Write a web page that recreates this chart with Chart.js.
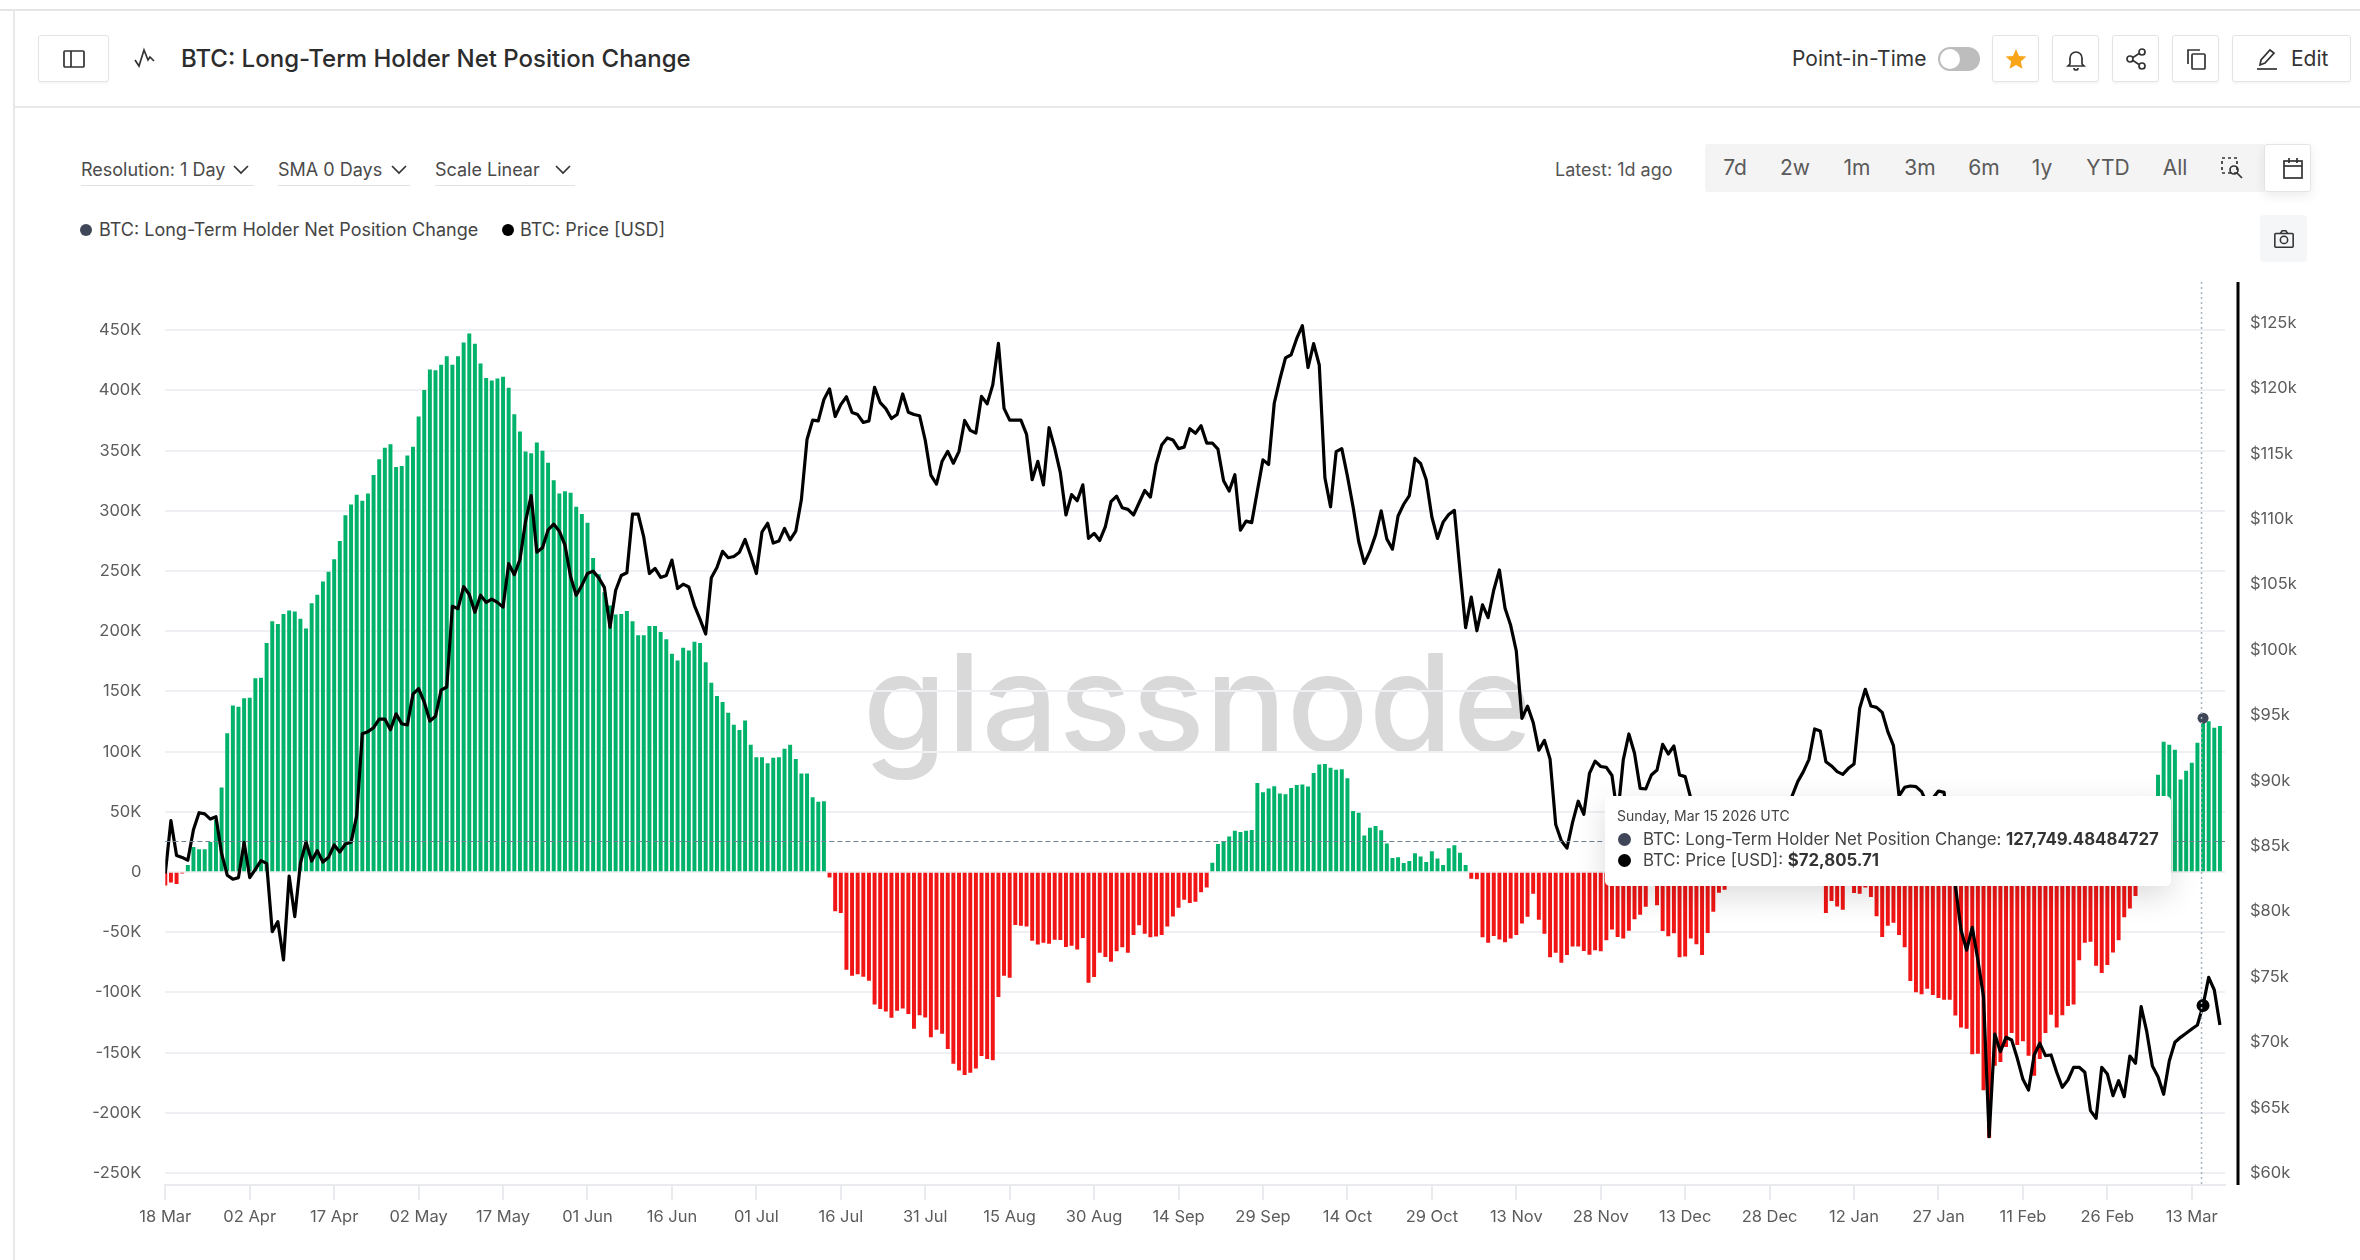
<!DOCTYPE html>
<html>
<head>
<meta charset="utf-8">
<title>BTC: Long-Term Holder Net Position Change</title>
<script src="https://cdn.jsdelivr.net/npm/chart.js@4"></script>
<style>
  html, body { margin: 0; padding: 0; background: #fff; }
  body { width: 2360px; height: 1260px; position: relative; overflow: hidden; font-family: Inter, sans-serif; color: #333; }
  .a { position: absolute; white-space: nowrap; }
  .c { display: flex; align-items: center; justify-content: center; }
  .btn { position: absolute; top: 35px; height: 47px; box-sizing: border-box; border: 1px solid #e4e4e4; border-radius: 3px; background: #fff; box-shadow: 0 2px 2px rgba(0,0,0,.04); display: flex; align-items: center; justify-content: center; }
  .drop { position: absolute; top: 157px; height: 28px; font-size: 18px; color: #4a4a4a; border-bottom: 1px solid #e2e2e2; line-height: 26px; }
  .range { position: absolute; top: 145px; height: 48px; line-height: 46px; font-size: 21px; color: #5a5a5a; transform: translateX(-50%); }
  svg { display: block; fill: none; stroke: #333; stroke-width: 1.7; }
  canvas { position: absolute; left: 0; top: 0; z-index: 2; }
  #watermark { left: 863px; top: 635px; font-size: 135px; line-height: 1; color: #d9d9d9; z-index: 1; font-weight: 500; letter-spacing: 0.5px; }
  #tip { left: 1605px; top: 796px; width: 566px; height: 90px; background: #fff; border-radius: 5px; box-shadow: 0 10px 30px rgba(0,0,0,.14); z-index: 3; color: #444; }
  #tip .dot { position: absolute; left: 13px; width: 13px; height: 13px; border-radius: 50%; }
  #tip .row { position: absolute; left: 38px; font-size: 16.8px; line-height: 20px; white-space: nowrap; }
  #tip b { color: #333; font-weight: 700; }
</style>
</head>
<body>
<div class="a" style="left:0;top:9px;width:2360px;height:2px;background:#e5e5e5"></div>
<div class="a" style="left:13px;top:10px;width:2px;height:1250px;background:#e8e8e8"></div>
<div class="a" style="left:15px;top:106px;width:2345px;height:2px;background:#e8e8e8"></div>

<div class="btn" style="left:38px;width:71px">
  <svg width="24" height="24" viewBox="0 0 24 24"><rect x="2" y="4" width="20" height="16" rx="1"/><line x1="9" y1="4" x2="9" y2="20"/></svg>
</div>
<svg class="a" style="left:133px;top:46px" width="24" height="26" viewBox="0 0 24 26"><path d="M2 14l4 6 5-16 4 10 2-3 4 4"/></svg>
<div class="a" style="left:181px;top:43px;font-size:24px;line-height:32px;font-weight:500;color:#2c2c2c">BTC: Long-Term Holder Net Position Change</div>

<div class="a" style="left:1792px;top:45px;font-size:21px;line-height:28px;color:#333">Point-in-Time</div>
<div class="a" style="left:1938px;top:47px;width:42px;height:24px;border-radius:12px;background:#bdbdbd"></div>
<div class="a" style="left:1940px;top:49px;width:20px;height:20px;border-radius:50%;background:#fff"></div>
<div class="btn" style="left:1992px;width:47px">
  <svg width="24" height="24" viewBox="0 0 24 24" style="stroke:none;fill:#f9a51a"><path d="M12 2l3 7 7.400.6-5.600 4.900 1.700 7.300L12 18l-6.500 3.800 1.700-7.300L1.600 9.600 9 9z"/></svg>
</div>
<div class="btn" style="left:2052px;width:47px">
  <svg width="24" height="24" viewBox="0 0 24 24"><path d="M6 17V11a6 6 0 0 1 12 0v6l2 2H4z"/><path d="M10 21a2 2 0 0 0 4 0"/></svg>
</div>
<div class="btn" style="left:2112px;width:47px">
  <svg width="24" height="24" viewBox="0 0 24 24"><circle cx="18" cy="5" r="3"/><circle cx="6" cy="12" r="3"/><circle cx="18" cy="19" r="3"/><path d="M9 10.500l6-4M9 13.500l6 4"/></svg>
</div>
<div class="btn" style="left:2172px;width:47px">
  <svg width="24" height="24" viewBox="0 0 24 24"><rect x="8" y="7" width="13" height="15" rx="1"/><path d="M4 17V3h12"/></svg>
</div>
<div class="btn" style="left:2232px;width:119px;justify-content:flex-start">
  <svg style="margin-left:22px" width="24" height="24" viewBox="0 0 24 24"><path d="M5 18l1-5L15 3l4 3-9 10z"/><line x1="2" y1="22" x2="22" y2="22"/></svg>
  <span style="margin-left:12px;font-size:21px;color:#333">Edit</span>
</div>

<div class="drop" style="left:81px;width:173px">Resolution: 1 Day</div>
<div class="drop" style="left:278px;width:132px">SMA 0 Days</div>
<div class="drop" style="left:435px;width:140px">Scale Linear</div>
<svg class="a" style="left:233px;top:165px" width="16" height="10" viewBox="0 0 16 10"><path d="M1 1l7 7 7-7"/></svg>
<svg class="a" style="left:391px;top:165px" width="16" height="10" viewBox="0 0 16 10"><path d="M1 1l7 7 7-7"/></svg>
<svg class="a" style="left:555px;top:165px" width="16" height="10" viewBox="0 0 16 10"><path d="M1 1l7 7 7-7"/></svg>

<div class="a" style="left:80px;top:224px;width:12px;height:12px;border-radius:50%;background:#3f4658"></div>
<div class="a" style="left:99px;top:218px;font-size:18px;line-height:24px;color:#444">BTC: Long-Term Holder Net Position Change</div>
<div class="a" style="left:502px;top:224px;width:12px;height:12px;border-radius:50%;background:#000"></div>
<div class="a" style="left:520px;top:218px;font-size:18px;line-height:24px;color:#444">BTC: Price [USD]</div>

<div class="a" style="left:1555px;top:158px;font-size:18px;line-height:24px;color:#555">Latest: 1d ago</div>
<div class="a" style="left:1705px;top:144px;width:560px;height:48px;background:#f4f4f4;border-radius:3px"></div>
<div class="range" style="left:1735px">7d</div>
<div class="range" style="left:1795px">2w</div>
<div class="range" style="left:1857px">1m</div>
<div class="range" style="left:1920px">3m</div>
<div class="range" style="left:1984px">6m</div>
<div class="range" style="left:2042px">1y</div>
<div class="range" style="left:2108px">YTD</div>
<div class="range" style="left:2175px">All</div>
<svg class="a" style="left:2221px;top:157px" width="22" height="22" viewBox="0 0 22 22"><rect x="1" y="1" width="15" height="15" stroke-dasharray="3 3"/><circle cx="13" cy="13" r="4"/><line x1="16" y1="16" x2="21" y2="21"/></svg>
<div class="a c" style="left:2264px;top:144px;width:47px;height:48px;box-sizing:border-box;background:#fff;border:1px solid #e4e4e4;border-radius:3px;box-shadow:0 4px 12px rgba(0,0,0,.08)">
  <svg style="margin-left:10px" width="24" height="24" viewBox="0 0 24 24"><rect x="3" y="5" width="18" height="17"/><line x1="3" y1="10" x2="21" y2="10"/><path d="M8 2v5M16 2v5"/></svg>
</div>
<div class="a c" style="left:2260px;top:215px;width:47px;height:47px;background:#f5f6f8;border-radius:4px">
  <svg width="22" height="22" viewBox="0 0 24 24"><rect x="2" y="6" width="20" height="15" rx="1"/><path d="M8 6l2-3h4l2 3"/><circle cx="12" cy="13" r="4"/></svg>
</div>

<div class="a" id="watermark">glassnode</div>
<canvas id="chart" width="2360" height="1260"></canvas>

<div class="a" id="tip">
  <div class="row" style="left:12px;top:10px;font-size:14px">Sunday, Mar 15 2026 UTC</div>
  <div class="dot" style="top:37px;background:#3f4658"></div>
  <div class="row" style="top:33px">BTC: Long-Term Holder Net Position Change: <b>127,749.48484727</b></div>
  <div class="dot" style="top:58px;background:#000"></div>
  <div class="row" style="top:54px">BTC: Price [USD]: <b>$72,805.71</b></div>
</div>

<script>
  'use strict';

  // x axis: one label every 15 days starting at day 0 (18 Mar 2025)
  var xTickLabels = ['18 Mar', '02 Apr', '17 Apr', '02 May', '17 May', '01 Jun', '16 Jun', '01 Jul', '16 Jul', '31 Jul',
    '15 Aug', '30 Aug', '14 Sep', '29 Sep', '14 Oct', '29 Oct', '13 Nov', '28 Nov', '13 Dec', '28 Dec',
    '12 Jan', '27 Jan', '11 Feb', '26 Feb', '13 Mar'];
  var leftTicks = [-250, -200, -150, -100, -50, 0, 50, 100, 150, 200, 250, 300, 350, 400, 450];
  var rightTicks = [60000, 65000, 70000, 75000, 80000, 85000, 90000, 95000, 100000, 105000, 110000, 115000, 120000, 125000];

  // Net position change per day, thousands of BTC
  var netChangeK = [
    -11, -8.5, -9.7, -1, 5.6, 20.4, 18.7, 18.7, 24.6, 43,
    70, 115, 138, 137, 144, 144.5, 160.6, 161, 190, 208,
    205.6, 214, 217, 216, 210, 202, 223, 230, 241, 249,
    259.5, 274.6, 296, 305, 313, 308, 314, 329.5, 342.6, 352,
    355, 336, 337, 345.6, 353, 378, 400, 417, 416.5, 421,
    428, 421, 428, 439.5, 447, 438.5, 422, 410, 408, 409.6,
    411, 402, 380, 365.6, 349, 347.6, 356.4, 349.5, 339.7, 325,
    314, 316, 314.7, 303, 297, 289.7, 260.5, 247, 232, 221,
    213.5, 214, 216.5, 208, 196.4, 196.4, 204, 204, 199, 193,
    181, 175.4, 186, 183.6, 191, 190, 174, 157, 146, 141,
    132, 122, 117.6, 125.5, 105.4, 95, 95, 90, 94.6, 95,
    102, 105.4, 93.6, 81.5, 81.5, 61.8, 58, 58.5, -4.2, -32.4,
    -33.8, -80.9, -86, -84.7, -86.7, -90, -109.7, -113.5, -115.5, -120.7,
    -115, -113, -117.7, -130, -118.8, -120.5, -137, -130.7, -134, -146.8,
    -159, -164.5, -168.4, -166.4, -163, -152.6, -155, -156, -103.6, -86,
    -87.5, -43.7, -44.3, -44.9, -56.8, -60, -58.4, -59.3, -56, -56.2,
    -62, -61, -64.2, -54.5, -91.7, -87, -66.7, -70.3, -74.2, -65.6,
    -62.3, -66.7, -52, -44, -51, -54, -53.4, -52, -44.9, -36.6,
    -29.4, -22.7, -25.5, -24.4, -16.6, -12.7, 7.5, 22.9, 25, 29.2,
    33.9, 33, 33.9, 34.7, 73.7, 66, 69, 71, 65, 64.4,
    69.5, 72, 72.5, 70.8, 82, 89, 89.4, 86.4, 84.7, 85,
    77.5, 50.4, 49, 30, 36.4, 38, 34.3, 23.3, 11.4, 11.9,
    7.2, 8.9, 15.3, 12.7, 8, 17, 11, 5.5, 19.5, 22,
    15.7, 5.5, -5.3, -5.8, -54, -58.4, -52.9, -55.7, -58, -55,
    -52, -42.6, -37, -17.7, -39.3, -51, -70.6, -66.7, -75, -68.7,
    -61.7, -61.7, -65.3, -68.4, -64.8, -65.6, -56.5, -47.4, -53.7, -55,
    -48.5, -39, -35.2, -28.5, -8, -27.4, -48.7, -53, -50.7, -70.6,
    -70, -55, -59.8, -68.7, -50.4, -32.7, -16.9, -14.4, -10, -8,
    -6, -7, -5, -4, -6, -8, -9, -10, -11, -10,
    -9, -8, -9, -11, -10, -33.8, -23.8, -28.3, -31.1, -8,
    -17.1, -17.7, -12.7, -20.5, -36.5, -53.7, -44.3, -41.8, -52, -62.3,
    -90.3, -99.7, -101.3, -96.6, -101.9, -104.4, -105.8, -105.8, -119, -128.8,
    -130, -151, -150.6, -181, -220.7, -160.6, -157.5, -145, -133.5, -143.4,
    -140.4, -152.3, -169, -155, -133.5, -118.2, -128.8, -118.8, -111, -109.7,
    -73, -58.4, -57.6, -77.5, -83.6, -77, -66.5, -56.5, -37.4, -30,
    -19.7, -6, 4, 30, 80.5, 107.8, 105.5, 101.2, 76.6, 83.8,
    90.4, 107, 127.75, 125, 119.6, 121
  ];

  // BTC price in USD per day
  var price = [
    82917, 86937, 84277, 84126, 83914, 86242, 87542, 87451, 87058, 87239,
    84429, 82766, 82463, 82584, 85275, 82584, 83218, 83883, 83675, 78451,
    79216, 76286, 82707, 79598, 83675, 85306, 83853, 84643, 83777, 84134,
    85076, 84541, 85153, 85280, 87300, 93588, 93739, 94041, 94706, 94706,
    93890, 95099, 94343, 94253, 96611, 97034, 96006, 94555, 94918, 96913,
    97155, 103322, 103141, 104833, 104229, 102868, 104168, 103624, 103866, 103624,
    103262, 106587, 105740, 106889, 109821, 111786, 107463, 107796, 109156, 109610,
    109065, 108008, 105589, 104168, 104924, 105831, 106012, 105499, 104773, 101720,
    104531, 105680, 105891, 110366, 110366, 108612, 105831, 106224, 105529, 105680,
    106859, 104682, 105015, 104803, 103382, 102324, 101206, 105499, 106285, 107524,
    107040, 107131, 107463, 108431, 107192, 105831, 109005, 109670, 108158, 108310,
    109277, 108401, 109065, 111484, 116079, 117560, 117500, 119132, 119948, 117832,
    118739, 119344, 118135, 117983, 117379, 117500, 120069, 118890, 118437, 117681,
    117983, 119555, 118165, 117983, 117893, 116019, 113358, 112663, 114416, 115172,
    114265, 115172, 117530, 116774, 116563, 119374, 118800, 120251, 123425, 118458,
    117561, 117561, 117561, 116469, 112998, 114402, 112608, 116976, 115416, 113544,
    110307, 111867, 111399, 112608, 108513, 108903, 108357, 109410, 111321, 111750,
    110853, 110736, 110307, 111243, 112179, 111672, 114168, 115650, 116196, 116040,
    115377, 115494, 116898, 116547, 117132, 115806, 115806, 115338, 112920, 112140,
    113388, 109137, 109839, 109722, 112140, 114519, 114168, 118848, 120681, 122319,
    122553, 123801, 124776, 121578, 123411, 121773, 113154, 110931, 115143, 115377,
    113271, 110931, 108279, 106602, 107538, 108786, 110619, 108474, 107694, 110229,
    111126, 111789, 114636, 114246, 112998, 110151, 108513, 109761, 110346, 110658,
    106056, 101688, 104028, 101454, 103430, 102464, 104570, 106100, 103182, 101872,
    99906, 94758, 95694, 94446, 92324, 93073, 91638, 86646, 85398, 84836,
    86802, 88424, 87426, 90546, 91482, 91076, 91014, 90390, 87243, 91575,
    93562, 92085, 89409, 89358, 90428, 90811, 92773, 92034, 92645, 90428,
    90301, 88645, 86400, 87800, 86200, 85500, 88100, 88300, 88600, 88500,
    87500, 87600, 87200, 87300, 87800, 87800, 87100, 88400, 87500, 88823,
    89919, 90683, 91626, 93945, 93792, 91448, 91116, 90683, 90479, 90938,
    91269, 95524, 96977, 95703, 95601, 95219, 93741, 92671, 88823, 89486,
    89588, 89537, 89154, 88200, 88650, 89200, 89100, 84500, 82000, 78578,
    77049, 78782, 76285, 73482, 62780, 70628, 69278, 70373, 70170, 68768,
    67163, 66348, 69023, 69915, 68972, 69023, 67698, 66551, 67112, 68080,
    68080, 67698, 64768, 64182, 68080, 67570, 65914, 67061, 65838, 68946,
    68386, 72718, 70807, 68182, 67367, 66016, 68564, 69991, 70373, 70679,
    71010, 71316, 72805.71, 74960, 73992, 71316
  ];

  // Hovered day (15 Mar 2026) and level of the crosshair
  var hoverDay = 362;
  var crossLevelK = 26;

  var GREEN = '#00B26A', RED = '#F11515', GRID = '#eff0f4', TICK = '#5c5c5c';
  var tickFont = { family: 'Inter', size: 16.5 };

  // Crosshair and the black right axis rule, which sits clear of the plot
  var overlayPlugin = {
    id: 'overlay',
    afterDatasetsDraw: function (chart) {
      var ctx = chart.ctx, area = chart.chartArea;
      var x = chart.scales.x.getPixelForValue(hoverDay) - 1.5;
      var y = Math.round(chart.scales.y.getPixelForValue(crossLevelK)) + 0.5;
      ctx.save();
      ctx.lineWidth = 1;
      ctx.strokeStyle = '#6d8296';
      ctx.setLineDash([5, 3]);
      ctx.beginPath(); ctx.moveTo(area.left, y); ctx.lineTo(area.right, y); ctx.stroke();
      ctx.lineWidth = 1.5;
      ctx.strokeStyle = '#a6b4c0';
      ctx.setLineDash([2, 3]);
      ctx.beginPath(); ctx.moveTo(x, area.top); ctx.lineTo(x, area.bottom); ctx.stroke();
      ctx.setLineDash([]);
      ctx.lineWidth = 3;
      ctx.strokeStyle = '#000';
      ctx.beginPath(); ctx.moveTo(area.right + 13, area.top); ctx.lineTo(area.right + 13, area.bottom); ctx.stroke();
      ctx.restore();
    }
  };

  new Chart(document.getElementById('chart').getContext('2d'), {
    data: {
      datasets: [
        {
          type: 'line',
          label: 'BTC: Hover',
          data: [{ x: hoverDay, y: netChangeK[hoverDay] }],
          yAxisID: 'y',
          pointRadius: 5.5,
          pointBackgroundColor: '#3f4658',
          pointBorderWidth: 0,
          order: 0
        },
        {
          type: 'line',
          label: 'BTC: Price [USD]',
          data: price.map(function (v, i) { return { x: i, y: v }; }),
          yAxisID: 'y1',
          borderColor: '#000',
          borderWidth: 3.2,
          borderJoinStyle: 'round',
          tension: 0,
          pointRadius: function (c) { return c.dataIndex === hoverDay ? 6.5 : 0; },
          pointBackgroundColor: '#000',
          pointBorderWidth: 0,
          order: 1
        },
        {
          type: 'bar',
          label: 'BTC: Long-Term Holder Net Position Change',
          data: netChangeK.map(function (v, i) { return { x: i, y: v }; }),
          yAxisID: 'y',
          barThickness: 3.3,
          backgroundColor: function (c) { return c.raw && c.raw.y < 0 ? RED : GREEN; },
          order: 2
        }
      ]
    },
    options: {
      responsive: false,
      animation: false,
      devicePixelRatio: 1,
      layout: { padding: { top: 282 } },
      plugins: { legend: { display: false }, tooltip: { enabled: false } },
      scales: {
        x: {
          type: 'linear',
          offset: false,
          min: 0,
          max: 365.9,
          grid: { offset: false, drawOnChartArea: false, drawTicks: true, tickLength: 15, color: '#e9ebef', lineWidth: 2 },
          border: { color: '#e9ebef', width: 2 },
          afterBuildTicks: function (s) { s.ticks = xTickLabels.map(function (l, i) { return { value: i * 15 }; }); },
          afterFit: function (s) { s.height = 75; },
          ticks: {
            color: TICK, font: tickFont, padding: 7, maxRotation: 0, autoSkip: false,
            callback: function (v) { return xTickLabels[v / 15]; }
          }
        },
        y: {
          position: 'left',
          min: -259.97,
          max: 490.03,
          grid: { color: GRID, lineWidth: 2, drawTicks: false },
          border: { display: false },
          afterBuildTicks: function (s) { s.ticks = leftTicks.map(function (v) { return { value: v }; }); },
          afterFit: function (s) { s.width = 165.3; },
          ticks: {
            color: TICK, font: tickFont, padding: 24,
            callback: function (v) { return v === 0 ? '0' : v + 'K'; }
          }
        },
        y1: {
          position: 'right',
          min: 59083,
          max: 128117,
          grid: { display: false, drawTicks: false },
          border: { display: false },
          afterBuildTicks: function (s) { s.ticks = rightTicks.map(function (v) { return { value: v }; }); },
          afterFit: function (s) { s.width = 135; },
          ticks: {
            color: TICK, font: tickFont, padding: 25,
            callback: function (v) { return '$' + (v / 1000) + 'k'; }
          }
        }
      }
    },
    plugins: [overlayPlugin]
  });
</script>
</body>
</html>
